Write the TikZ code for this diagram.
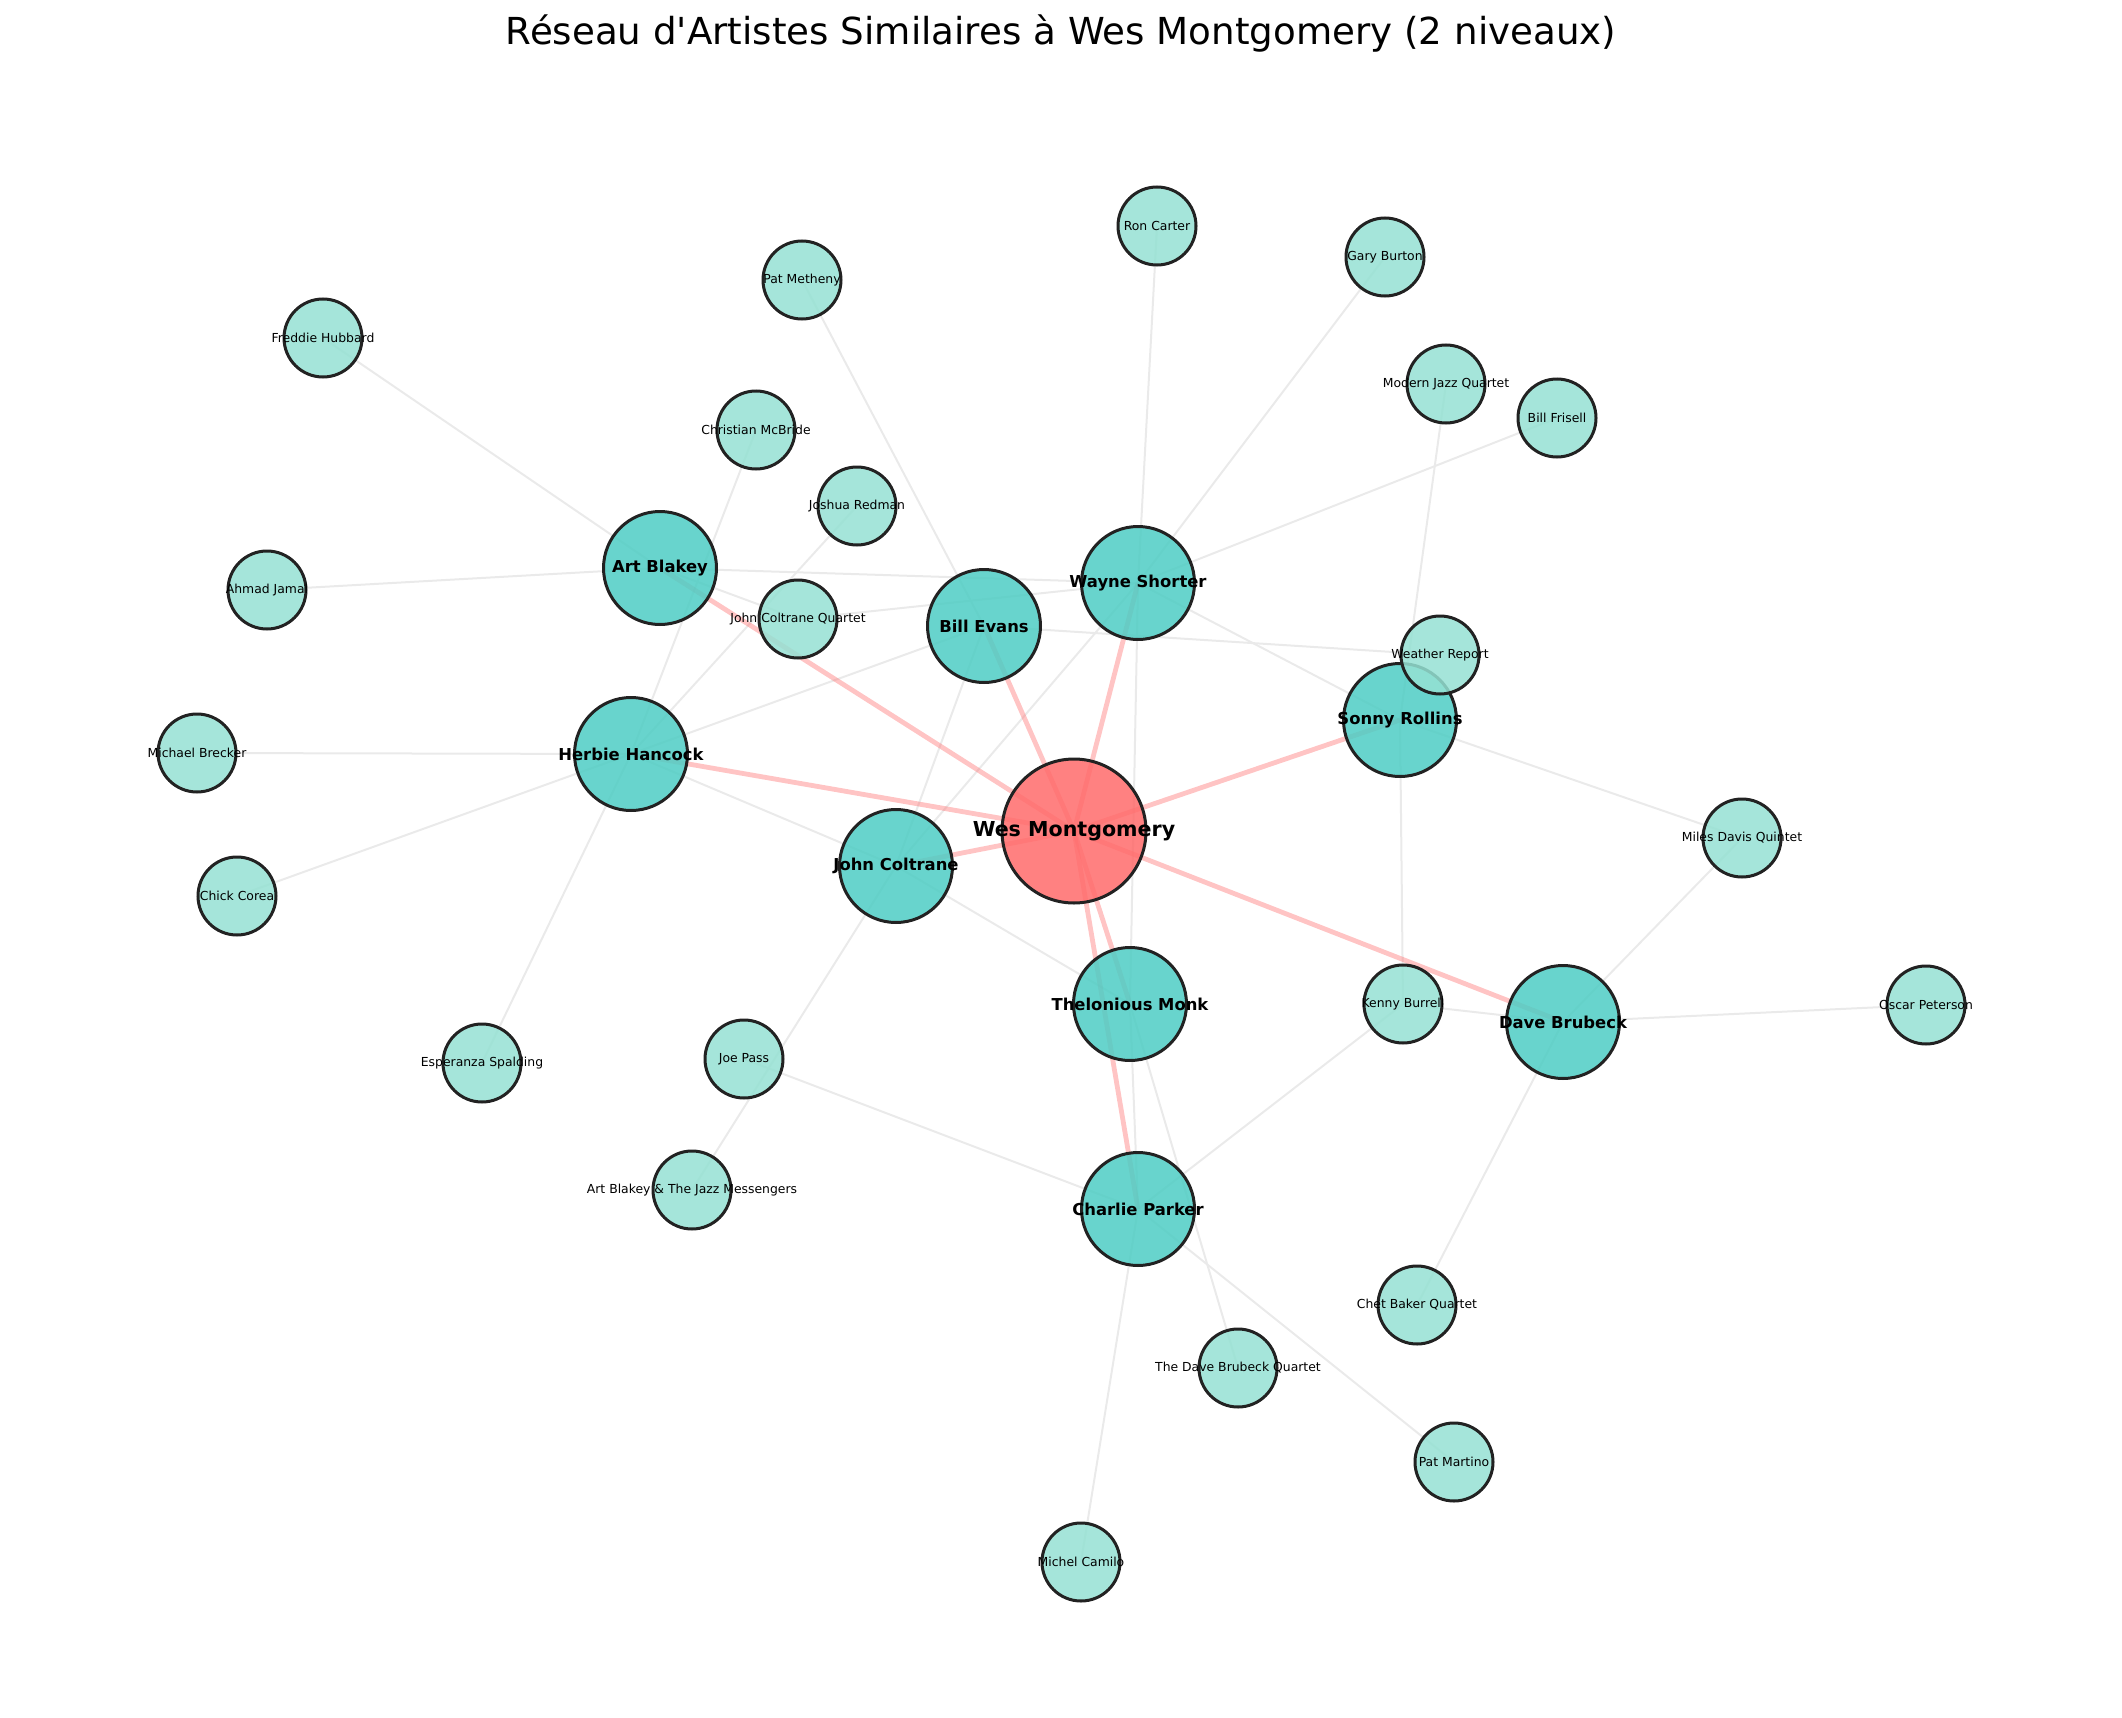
\documentclass[tikz,border=0pt]{standalone}
\usepackage{fontspec}
\setmainfont{DejaVu Sans}
\pgfdeclarelayer{edges}
\pgfsetlayers{edges,main}
\definecolor{wescol}{HTML}{FF6B6B}
\definecolor{lvonecol}{HTML}{4ECDC4}
\definecolor{lvtwocol}{HTML}{95E1D3}
\definecolor{rimcol}{HTML}{222222}
\definecolor{linkcol}{HTML}{EAEAEA}

\begin{document}
\begin{tikzpicture}[x=0.5pt, y=-0.5pt,
		artist/.style={circle, draw=rimcol, line width=1.5pt, fill opacity=0.85, text opacity=1, inner sep=0pt},
		wesnode/.style={artist, fill=wescol, minimum size=72pt, font=\bfseries\fontsize{10.3}{12}\selectfont},
		lvone/.style={artist, fill=lvonecol, minimum size=56.5pt, font=\bfseries\fontsize{8.2}{10}\selectfont},
		lvtwo/.style={artist, fill=lvtwocol, minimum size=39pt, font=\fontsize{6.2}{7.5}\selectfont},
		wesedge/.style={draw=wescol, draw opacity=0.4, line width=2.4pt},
		simedge/.style={draw=linkcol, line width=1pt}]
		\useasboundingbox (0,0) rectangle (2122,1718);

		% Title
		\node[font=\fontsize{18.6}{22}\selectfont, anchor=base] (title) at (1061,45) {Réseau d\textquotesingle Artistes Similaires à Wes Montgomery (2 niveaux)};

		% Draw the centre artist
		\node[wesnode] (wes) at (1074,831) {\makebox[0pt]{Wes Montgomery}};

		% Draw the first level
		\node[lvone] (artblakey) at (660,568) {\makebox[0pt]{Art Blakey}};
		\node[lvone] (wayne) at (1138,583) {\makebox[0pt]{Wayne Shorter}};
		\node[lvone] (billevans) at (984,626) {\makebox[0pt]{Bill Evans}};
		\node[lvone] (sonny) at (1400,720) {\makebox[0pt]{Sonny Rollins}};
		\node[lvone] (herbie) at (631,754) {\makebox[0pt]{Herbie Hancock}};
		\node[lvone] (coltrane) at (896,866) {\makebox[0pt]{John Coltrane}};
		\node[lvone] (monk) at (1130,1004) {\makebox[0pt]{Thelonious Monk}};
		\node[lvone] (brubeck) at (1563,1022) {\makebox[0pt]{Dave Brubeck}};
		\node[lvone] (parker) at (1138,1209) {\makebox[0pt]{Charlie Parker}};

		% Draw the second level
		\node[lvtwo] (roncarter) at (1157,226) {\makebox[0pt]{Ron Carter}};
		\node[lvtwo] (garyburton) at (1385,257) {\makebox[0pt]{Gary Burton}};
		\node[lvtwo] (metheny) at (802,280) {\makebox[0pt]{Pat Metheny}};
		\node[lvtwo] (hubbard) at (323,338) {\makebox[0pt]{Freddie Hubbard}};
		\node[lvtwo] (mjq) at (1446,384) {\makebox[0pt]{Modern Jazz Quartet}};
		\node[lvtwo] (frisell) at (1557,418) {\makebox[0pt]{Bill Frisell}};
		\node[lvtwo] (mcbride) at (756,430) {\makebox[0pt]{Christian McBride}};
		\node[lvtwo] (redman) at (857,506) {\makebox[0pt]{Joshua Redman}};
		\node[lvtwo] (jamal) at (267,590) {\makebox[0pt]{Ahmad Jamal}};
		\node[lvtwo] (jcq) at (798,619) {\makebox[0pt]{John Coltrane Quartet}};
		\node[lvtwo] (weather) at (1440,655) {\makebox[0pt]{Weather Report}};
		\node[lvtwo] (brecker) at (197,753) {\makebox[0pt]{Michael Brecker}};
		\node[lvtwo] (milesq) at (1742,838) {\makebox[0pt]{Miles Davis Quintet}};
		\node[lvtwo] (corea) at (237,896) {\makebox[0pt]{Chick Corea}};
		\node[lvtwo] (burrell) at (1403,1004) {\makebox[0pt]{Kenny Burrell}};
		\node[lvtwo] (peterson) at (1926,1005) {\makebox[0pt]{Oscar Peterson}};
		\node[lvtwo] (spalding) at (482,1063) {\makebox[0pt]{Esperanza Spalding}};
		\node[lvtwo] (joepass) at (744,1059) {\makebox[0pt]{Joe Pass}};
		\node[lvtwo] (abjm) at (692,1190) {\makebox[0pt]{Art Blakey \& The Jazz Messengers}};
		\node[lvtwo] (chetbaker) at (1417,1305) {\makebox[0pt]{Chet Baker Quartet}};
		\node[lvtwo] (dbq) at (1238,1368) {\makebox[0pt]{The Dave Brubeck Quartet}};
		\node[lvtwo] (martino) at (1454,1462) {\makebox[0pt]{Pat Martino}};
		\node[lvtwo] (camilo) at (1081,1562) {\makebox[0pt]{Michel Camilo}};

		\begin{pgfonlayer}{edges}
		% Draw the links between similar artists
		\draw[simedge] (hubbard.center) -- (artblakey.center);
		\draw[simedge] (jamal.center) -- (artblakey.center);
		\draw[simedge] (artblakey.center) -- (wayne.center);
		\draw[simedge] (artblakey.center) -- (jcq.center);
		\draw[simedge] (mcbride.center) -- (herbie.center);
		\draw[simedge] (redman.center) -- (herbie.center);
		\draw[simedge] (jcq.center) -- (wayne.center);
		\draw[simedge] (herbie.center) -- (billevans.center);
		\draw[simedge] (herbie.center) -- (coltrane.center);
		\draw[simedge] (herbie.center) -- (brecker.center);
		\draw[simedge] (herbie.center) -- (corea.center);
		\draw[simedge] (herbie.center) -- (spalding.center);
		\draw[simedge] (metheny.center) -- (billevans.center);
		\draw[simedge] (billevans.center) -- (weather.center);
		\draw[simedge] (billevans.center) -- (coltrane.center);
		\draw[simedge] (roncarter.center) -- (wayne.center);
		\draw[simedge] (garyburton.center) -- (wayne.center);
		\draw[simedge] (frisell.center) -- (wayne.center);
		\draw[simedge] (wayne.center) -- (sonny.center);
		\draw[simedge] (wayne.center) -- (coltrane.center);
		\draw[simedge] (wayne.center) -- (monk.center);
		\draw[simedge] (mjq.center) -- (sonny.center);
		\draw[simedge] (sonny.center) -- (milesq.center);
		\draw[simedge] (sonny.center) -- (burrell.center);
		\draw[simedge] (coltrane.center) -- (monk.center);
		\draw[simedge] (coltrane.center) -- (abjm.center);
		\draw[simedge] (monk.center) -- (parker.center);
		\draw[simedge] (monk.center) -- (dbq.center);
		\draw[simedge] (joepass.center) -- (parker.center);
		\draw[simedge] (parker.center) -- (burrell.center);
		\draw[simedge] (parker.center) -- (camilo.center);
		\draw[simedge] (parker.center) -- (martino.center);
		\draw[simedge] (burrell.center) -- (brubeck.center);
		\draw[simedge] (brubeck.center) -- (peterson.center);
		\draw[simedge] (brubeck.center) -- (milesq.center);
		\draw[simedge] (brubeck.center) -- (chetbaker.center);

		% Draw the links from the centre artist
		\draw[wesedge] (wes.center) -- (artblakey.center);
		\draw[wesedge] (wes.center) -- (herbie.center);
		\draw[wesedge] (wes.center) -- (billevans.center);
		\draw[wesedge] (wes.center) -- (wayne.center);
		\draw[wesedge] (wes.center) -- (sonny.center);
		\draw[wesedge] (wes.center) -- (coltrane.center);
		\draw[wesedge] (wes.center) -- (monk.center);
		\draw[wesedge] (wes.center) -- (parker.center);
		\draw[wesedge] (wes.center) -- (brubeck.center);
		\end{pgfonlayer}

	\end{tikzpicture}
\end{document}
